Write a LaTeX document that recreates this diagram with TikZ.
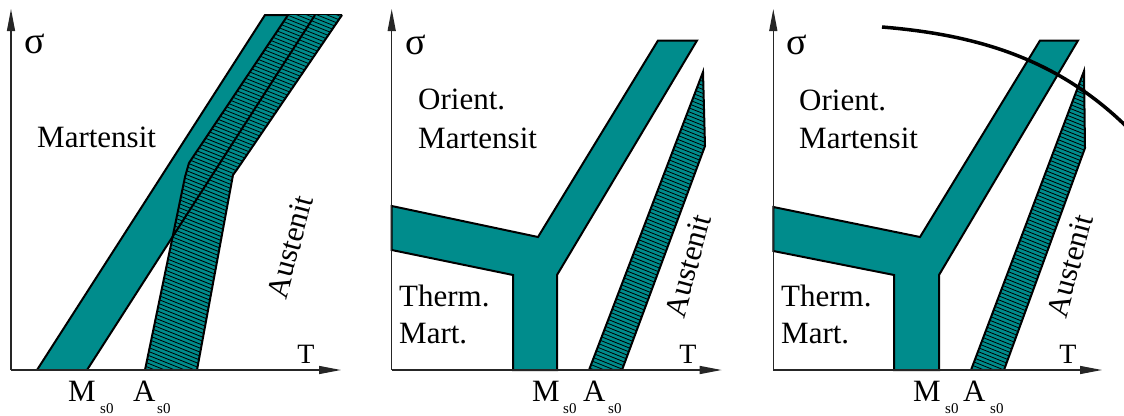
\documentclass[tikz,border=0pt]{standalone}
\usepackage{fontspec}
\setmainfont{Liberation Serif}
\usetikzlibrary{arrows.meta}
\definecolor{tealband}{RGB}{0,140,140}
\newcommand\hatchlines{\foreach \k in {-380,-376,...,330} \draw[hatchline] (0,\k) -- ++(1124,450);}
\begin{document}
\begin{tikzpicture}[x=1pt,y=-1pt,
  band/.style={fill=tealband,draw=black,line width=2pt,line join=miter},
  bandline/.style={draw=black,line width=2pt,line join=miter},
  hatchline/.style={draw=black,line width=0.8pt},
  axis/.style={draw=black!85,line width=1.3pt,-{Triangle[length=22pt,width=8pt]}},
  lbl/.style={font=\fontsize{31}{36}\selectfont,inner sep=0pt},
  sig/.style={font=\fontsize{38}{40}\selectfont,inner sep=0pt},
  tl/.style={font=\fontsize{28}{30}\selectfont,inner sep=0pt},
  sub/.style={font=\fontsize{15}{16}\selectfont,inner sep=0pt}]
\useasboundingbox (0,0) rectangle (1124,415);

% ---------------- Panel 1 ----------------
\fill[tealband] (37,370) -- (265,15) -- (315,15) -- (87,370) -- cycle;
\draw[bandline] (37,370) -- (265,15) -- (342,15);
\fill[tealband] (288,15) -- (189,163) -- (185,177) -- (145,370) -- (197,370) -- (233,175) -- (238,168) -- (342,15) -- cycle;
\begin{scope}
  \clip (288,15) -- (189,163) -- (185,177) -- (145,370) -- (197,370) -- (233,175) -- (238,168) -- (342,15) -- cycle;
  \hatchlines
\end{scope}
\draw[bandline] (288,15) -- (189,163) -- (185,177) -- (145,370);
\draw[bandline] (197,370) -- (233,175) -- (238,168) -- (342,15);
\draw[bandline] (87,370) -- (315,15);
\draw[axis] (11,370) -- (11,9);
\draw[axis] (11,370) -- (341,370);
\node[sig] (s1) at (35,44) {σ};
\node[tl,anchor=base] (t1) at (306,363) {T};
\node[lbl,anchor=base west] (m1) at (37,147) {Martensit};
\node[lbl,anchor=base west] (ms1) at (68,401) {M};
\node[sub,anchor=base west] (ms1s) at (100,413) {s0};
\node[lbl,anchor=base west] (as1) at (133,401) {A};
\node[sub,anchor=base west] (as1s) at (157,413) {s0};
\node[lbl,rotate=75] (au1) at (290,247) {Austenit};

% ---------------- Panel 2 ----------------
\draw[band] (391.7,206) -- (538,237) -- (658,40.5) -- (697,40.5) -- (557,275) -- (557,370) -- (513,370) -- (513,275) -- (391.7,250) -- cycle;
\fill[tealband] (589,370) -- (703,72) -- (705,146) -- (622,370) -- cycle;
\begin{scope}
  \clip (589,370) -- (703,72) -- (705,146) -- (622,370) -- cycle;
  \hatchlines
\end{scope}
\draw[bandline] (589,370) -- (703,72) -- (705,146) -- (622,370);
\draw[axis] (391.7,370) -- (391.7,9);
\draw[axis] (391.7,370) -- (721.7,370);
\node[sig] (s2) at (416,45) {σ};
\node[tl,anchor=base] (t2) at (688,363) {T};
\node[lbl,anchor=base west] (o2) at (418,109) {Orient.};
\node[lbl,anchor=base west] (m2) at (418,148) {Martensit};
\node[lbl,anchor=base west] (th2) at (399,306) {Therm.};
\node[lbl,anchor=base west] (ma2) at (399,343) {Mart.};
\node[lbl,anchor=base west] (ms2) at (532,401) {M};
\node[sub,anchor=base west] (ms2s) at (563,413) {s0};
\node[lbl,anchor=base west] (as2) at (583,401) {A};
\node[sub,anchor=base west] (as2s) at (608,413) {s0};
\node[lbl,rotate=75] (au2) at (688,266) {Austenit};

% ---------------- Panel 3 ----------------
\draw[band] (773.3,207) -- (920,237) -- (1040,40.5) -- (1078,40.5) -- (939,275) -- (939,370) -- (894,370) -- (894,275) -- (773.3,251) -- cycle;
\fill[tealband] (971,370) -- (1084,71) -- (1085,148) -- (1004,370) -- cycle;
\begin{scope}
  \clip (971,370) -- (1084,71) -- (1085,148) -- (1004,370) -- cycle;
  \hatchlines
\end{scope}
\draw[bandline] (971,370) -- (1084,71) -- (1085,148) -- (1004,370);
\draw[axis] (773.3,370) -- (773.3,9);
\draw[axis] (773.3,370) -- (1102,370);
\draw[line width=3.5pt] (882,27) .. controls (980,35) and (1060,60) .. (1130,130);
\node[sig] (s3) at (797,45) {σ};
\node[tl,anchor=base] (t3) at (1068,363) {T};
\node[lbl,anchor=base west] (o3) at (799,110) {Orient.};
\node[lbl,anchor=base west] (m3) at (799,148) {Martensit};
\node[lbl,anchor=base west] (th3) at (781,306) {Therm.};
\node[lbl,anchor=base west] (ma3) at (781,343) {Mart.};
\node[lbl,anchor=base west] (ms3) at (913,401) {M};
\node[sub,anchor=base west] (ms3s) at (945,413) {s0};
\node[lbl,anchor=base west] (as3) at (963,401) {A};
\node[sub,anchor=base west] (as3s) at (990,413) {s0};
\node[lbl,rotate=75] (au3) at (1070,266) {Austenit};
\end{tikzpicture}
\end{document}
